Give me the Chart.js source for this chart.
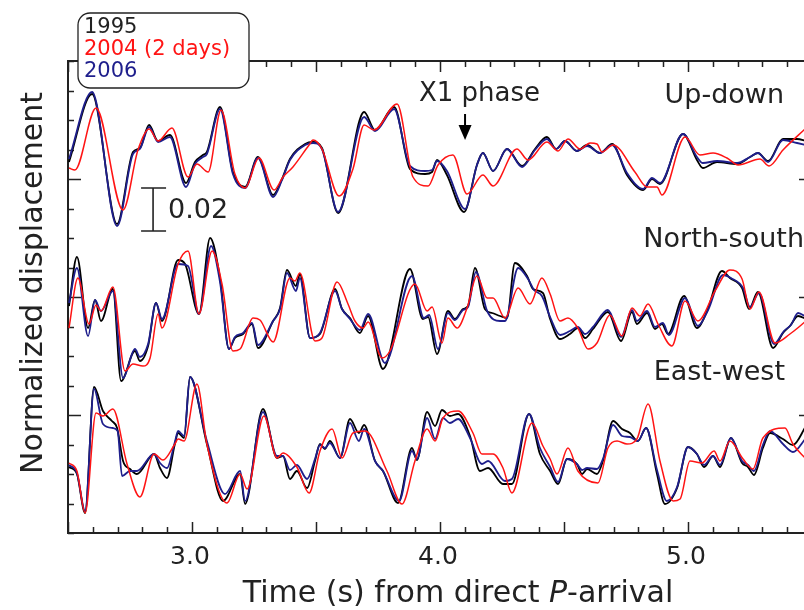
<!DOCTYPE html>
<html>
<head>
<meta charset="utf-8">
<script src="https://cdn.jsdelivr.net/npm/chart.js@4.4.1/dist/chart.umd.min.js"></script>
<style>
  html, body { margin: 0; padding: 0; background: #fff; overflow: hidden; }
  #wrap { width: 804px; height: 610px; overflow: hidden; }
</style>
</head>
<body>
<div id="wrap"><canvas id="chart" width="816" height="610"></canvas></div>
<script>
// time (s) from direct P-arrival, amplitude in plot units (43 units = 0.02)
const X_LABELS = [3.0, 4.0, 5.0];
const TICK = 29.5;
const BASE_UD = 12 * TICK, BASE_NS = 8 * TICK, BASE_EW = 4 * TICK;

/* ================= UP-DOWN ====================== */
const ud1995 = [[2.504,17],[2.597,85],[2.698,-45],[2.762,27],[2.790,31],[2.827,54],[2.863,38],[2.911,44],[2.976,-4],[3.012,17],[3.044,24],[3.060,27],[3.113,72],[3.165,7],[3.214,-8],[3.266,22],[3.327,-16],[3.363,0],[3.395,20],[3.456,35],[3.488,37],[3.524,31],[3.589,-34],[3.694,67],[3.738,49],[3.815,72],[3.879,10],[3.940,5],[3.968,7],[3.988,19],[4.028,4],[4.097,-33],[4.149,14],[4.173,26],[4.214,8],[4.270,30],[4.331,13],[4.383,30],[4.431,42],[4.468,30],[4.504,38],[4.552,28],[4.593,34],[4.645,26],[4.694,35],[4.754,4],[4.819,-11],[4.855,0],[4.887,-5],[4.980,45],[5.036,19],[5.060,11],[5.117,17],[5.198,15],[5.250,22],[5.282,26],[5.323,18],[5.383,40],[5.440,40],[5.476,38]];
const ud2004 = [[2.504,11],[2.528,9],[2.613,71],[2.722,-31],[2.782,29],[2.827,50],[2.863,38],[2.919,51],[2.984,2],[3.020,15],[3.065,7],[3.117,69],[3.173,5],[3.214,-9],[3.270,21],[3.331,-11],[3.367,2],[3.407,12],[3.472,34],[3.488,39],[3.524,30],[3.593,-17],[3.649,10],[3.694,54],[3.734,49],[3.827,75],[3.891,2],[3.952,-7],[3.992,14],[4.052,24],[4.109,-15],[4.173,4],[4.214,-7],[4.310,30],[4.355,19],[4.431,37],[4.476,28],[4.516,40],[4.565,30],[4.605,36],[4.633,35],[4.653,27],[4.698,34],[4.786,7],[4.835,-8],[4.875,-8],[4.895,-16],[4.988,42],[5.048,24],[5.101,26],[5.157,21],[5.202,14],[5.290,20],[5.327,13],[5.383,29],[5.476,51]];
const ud2006 = [[2.504,20],[2.597,87],[2.698,-47],[2.762,25],[2.790,30],[2.827,52],[2.863,37],[2.911,42],[2.976,-8],[3.012,15],[3.044,22],[3.060,25],[3.113,70],[3.165,5],[3.214,-9],[3.266,21],[3.327,-18],[3.363,-1],[3.395,19],[3.456,34],[3.488,36],[3.524,30],[3.589,-33],[3.694,62],[3.738,48],[3.815,70],[3.879,13],[3.940,8],[3.968,9],[3.988,18],[4.028,8],[4.101,-30],[4.149,14],[4.173,26],[4.214,8],[4.270,30],[4.331,12],[4.383,29],[4.431,40],[4.468,30],[4.504,38],[4.552,28],[4.593,33],[4.645,26],[4.694,34],[4.754,6],[4.819,-10],[4.855,1],[4.887,-4],[4.980,45],[5.036,22],[5.060,16],[5.117,18],[5.198,16],[5.250,22],[5.282,26],[5.323,17],[5.383,39],[5.440,36],[5.476,34]];

/* ================= NORTH-SOUTH ====================== */
const ns1995 = [[2.504,-9],[2.536,40],[2.581,-31],[2.609,-3],[2.633,-24],[2.681,8],[2.714,-84],[2.770,-54],[2.790,-64],[2.823,-49],[2.855,-6],[2.879,-24],[2.944,37],[2.972,33],[3.028,-17],[3.073,59],[3.113,19],[3.149,-52],[3.173,-41],[3.206,-37],[3.242,-27],[3.266,-51],[3.327,-24],[3.355,-11],[3.383,27],[3.419,11],[3.435,23],[3.476,-41],[3.516,-37],[3.577,8],[3.605,-12],[3.637,-21],[3.677,-36],[3.710,-19],[3.770,-72],[3.879,28],[3.931,-22],[3.952,-20],[3.988,-57],[4.032,-14],[4.060,-22],[4.093,-12],[4.113,-9],[4.141,29],[4.181,-12],[4.210,-16],[4.242,-19],[4.270,-21],[4.302,34],[4.351,21],[4.375,8],[4.415,4],[4.444,-22],[4.484,-42],[4.524,-37],[4.556,-31],[4.585,-41],[4.617,-32],[4.677,-15],[4.730,-44],[4.774,-15],[4.794,-27],[4.835,-16],[4.867,-32],[4.895,-27],[4.919,-37],[4.984,1],[5.036,-31],[5.077,-14],[5.137,26],[5.169,19],[5.218,9],[5.246,-12],[5.282,5],[5.343,-51],[5.383,-36],[5.411,-29],[5.444,-19],[5.476,-22]];
const ns2004 = [[2.504,-31],[2.540,19],[2.585,-27],[2.613,-8],[2.633,-14],[2.681,10],[2.730,-74],[2.762,-67],[2.802,-69],[2.831,-61],[2.863,-17],[2.879,-31],[2.944,33],[2.984,46],[3.028,-17],[3.081,46],[3.121,13],[3.165,-54],[3.194,-52],[3.246,-21],[3.274,-23],[3.327,-45],[3.395,19],[3.415,16],[3.435,24],[3.496,-44],[3.524,-41],[3.585,15],[3.629,-7],[3.657,-24],[3.690,-31],[3.710,-25],[3.766,-61],[3.798,-54],[3.899,13],[3.948,-14],[3.968,-10],[4.008,-46],[4.032,-21],[4.069,-31],[4.109,-11],[4.149,21],[4.190,-1],[4.214,-1],[4.262,-21],[4.315,9],[4.363,-7],[4.411,19],[4.444,3],[4.484,-24],[4.516,-21],[4.556,-31],[4.597,-52],[4.633,-46],[4.685,-18],[4.734,-39],[4.774,-11],[4.806,-19],[4.839,-7],[4.879,-27],[4.935,-49],[4.988,-4],[5.040,-24],[5.109,6],[5.169,27],[5.218,18],[5.250,-12],[5.286,5],[5.351,-46],[5.411,-37],[5.476,-24]];
const ns2006 = [[2.504,-6],[2.536,29],[2.581,-39],[2.609,-3],[2.633,-14],[2.681,6],[2.722,-81],[2.770,-52],[2.790,-60],[2.823,-47],[2.855,-6],[2.879,-22],[2.944,33],[2.984,31],[3.028,-17],[3.077,51],[3.113,15],[3.149,-52],[3.173,-40],[3.206,-36],[3.242,-26],[3.266,-48],[3.327,-24],[3.355,-12],[3.383,24],[3.419,6],[3.435,19],[3.476,-41],[3.516,-36],[3.577,6],[3.605,-12],[3.637,-22],[3.677,-33],[3.710,-17],[3.778,-66],[3.887,21],[3.935,-21],[3.956,-18],[3.992,-52],[4.032,-16],[4.060,-23],[4.093,-13],[4.113,-10],[4.145,25],[4.190,-14],[4.242,-24],[4.262,-24],[4.315,29],[4.355,18],[4.379,7],[4.411,1],[4.444,-20],[4.484,-38],[4.524,-34],[4.556,-30],[4.585,-37],[4.617,-30],[4.677,-13],[4.730,-40],[4.774,-13],[4.794,-24],[4.835,-14],[4.867,-30],[4.899,-26],[4.923,-38],[4.988,-1],[5.040,-29],[5.081,-13],[5.141,22],[5.173,19],[5.222,9],[5.250,-10],[5.286,4],[5.347,-47],[5.387,-34],[5.415,-28],[5.444,-16],[5.476,-20]];

/* ================= EAST-WEST ====================== */
const ew1995 = [[2.504,-52],[2.536,-59],[2.569,-98],[2.605,28],[2.641,4],[2.677,-6],[2.698,-13],[2.722,-46],[2.750,-54],[2.778,-59],[2.847,-39],[2.871,-53],[2.899,-63],[2.931,-29],[2.944,-18],[2.968,-23],[2.992,38],[3.060,-29],[3.125,-86],[3.194,-59],[3.214,-89],[3.286,6],[3.343,-43],[3.367,-41],[3.395,-64],[3.423,-56],[3.464,-73],[3.496,-46],[3.516,-29],[3.536,-34],[3.556,-26],[3.597,-43],[3.637,-4],[3.673,-18],[3.694,-10],[3.738,-46],[3.770,-56],[3.831,-88],[3.887,-33],[3.907,-45],[3.948,3],[3.980,-11],[4.008,5],[4.040,-1],[4.073,1],[4.121,-21],[4.161,-56],[4.194,-53],[4.254,-69],[4.290,-69],[4.359,1],[4.403,-39],[4.444,-56],[4.476,-69],[4.512,-44],[4.552,-49],[4.573,-59],[4.593,-54],[4.633,-59],[4.657,-46],[4.698,-6],[4.734,-14],[4.766,-18],[4.798,-26],[4.831,-13],[4.875,-59],[4.907,-89],[4.956,-73],[5.000,-32],[5.036,-39],[5.065,-52],[5.101,-41],[5.129,-52],[5.173,-23],[5.218,-48],[5.242,-52],[5.266,-60],[5.302,-33],[5.331,-18],[5.383,-24],[5.423,-30],[5.476,-11]];
const ew2004 = [[2.504,-48],[2.536,-56],[2.569,-98],[2.613,2],[2.641,-1],[2.681,6],[2.738,-49],[2.790,-82],[2.847,-39],[2.883,-45],[2.931,-29],[2.944,-24],[2.968,-26],[3.020,31],[3.060,-29],[3.141,-88],[3.194,-59],[3.222,-74],[3.290,-1],[3.343,-43],[3.367,-38],[3.423,-52],[3.472,-78],[3.516,-36],[3.565,-14],[3.605,-43],[3.649,-18],[3.698,-16],[3.786,-56],[3.847,-89],[3.899,-46],[3.948,-14],[3.980,-26],[4.012,-3],[4.073,4],[4.133,-18],[4.169,-39],[4.214,-39],[4.254,-53],[4.290,-78],[4.371,-8],[4.415,-31],[4.444,-44],[4.472,-59],[4.516,-33],[4.556,-56],[4.637,-68],[4.677,-33],[4.714,-26],[4.754,-29],[4.794,-24],[4.839,11],[4.887,-46],[4.940,-86],[4.968,-84],[5.008,-46],[5.056,-48],[5.105,-36],[5.129,-46],[5.169,-26],[5.222,-44],[5.262,-54],[5.302,-23],[5.391,-13],[5.423,-29],[5.476,-44]];
const ew2006 = [[2.504,-50],[2.536,-58],[2.569,-96],[2.605,26],[2.641,-9],[2.681,-13],[2.700,-16],[2.718,-61],[2.750,-56],[2.778,-56],[2.847,-39],[2.871,-48],[2.899,-53],[2.931,-27],[2.944,-16],[2.968,-21],[2.992,38],[3.060,-26],[3.133,-79],[3.194,-56],[3.214,-86],[3.286,3],[3.343,-41],[3.367,-41],[3.395,-55],[3.423,-50],[3.464,-64],[3.496,-44],[3.516,-30],[3.536,-33],[3.556,-28],[3.597,-43],[3.637,-8],[3.673,-26],[3.694,-14],[3.738,-46],[3.770,-56],[3.835,-86],[3.887,-36],[3.907,-44],[3.948,-3],[3.980,-24],[4.012,-3],[4.040,-8],[4.073,-4],[4.121,-23],[4.169,-49],[4.194,-46],[4.262,-66],[4.290,-64],[4.359,1],[4.403,-33],[4.444,-52],[4.476,-67],[4.512,-44],[4.552,-49],[4.573,-55],[4.593,-53],[4.633,-54],[4.657,-44],[4.698,-10],[4.734,-21],[4.766,-22],[4.798,-26],[4.831,-13],[4.875,-55],[4.915,-86],[4.956,-72],[5.000,-32],[5.036,-39],[5.065,-50],[5.101,-41],[5.129,-50],[5.173,-23],[5.218,-46],[5.242,-50],[5.266,-56],[5.302,-30],[5.331,-16],[5.383,-29],[5.423,-37],[5.476,-23]];

const COL_1995 = '#000000', COL_2004 = '#ff1414', COL_2006 = '#1e1e8c';
const INK = '#222222';
const FONT = '"DejaVu Sans", Verdana, sans-serif';

function trace(points, base, color, width, order) {
    return {
        data: points.map(p => ({ x: p[0], y: p[1] + base })),
        borderColor: color,
        borderWidth: width,
        pointRadius: 0,
        fill: false,
        cubicInterpolationMode: 'monotone',
        order: order
    };
}

// axes, inward ticks and all the annotations
const frame = {
    id: 'frame',
    beforeDatasetsDraw(chart) {
        const { ctx, chartArea: a, scales: { x, y } } = chart;
        ctx.save();
        ctx.strokeStyle = INK;
        ctx.lineWidth = 2;
        ctx.strokeRect(a.left, a.top, a.right - a.left, a.bottom - a.top);
        ctx.lineWidth = 1.5;
        ctx.beginPath();
        for (let k = 25; k <= 55; k++) {
            const px = Math.round(x.getPixelForValue(k / 10)) + 0.5;
            const len = k % 5 === 0 ? 11 : 6;
            ctx.moveTo(px, a.bottom); ctx.lineTo(px, a.bottom - len);
            ctx.moveTo(px, a.top); ctx.lineTo(px, a.top + len);
        }
        for (let k = 0; k <= 16; k++) {
            const py = Math.round(y.getPixelForValue(k * TICK)) + 0.5;
            const len = (k % 4 === 0 && k > 0 && k < 16) ? 13 : 6;
            ctx.moveTo(a.left, py); ctx.lineTo(a.left + len, py);
            ctx.moveTo(a.right, py); ctx.lineTo(a.right - len, py);
        }
        ctx.stroke();
        ctx.restore();
    },
    afterDraw(chart) {
        const { ctx, chartArea: a, scales: { x, y } } = chart;
        ctx.save();
        ctx.fillStyle = INK;
        ctx.font = '25px ' + FONT;
        ctx.textAlign = 'center';
        ctx.textBaseline = 'middle';
        X_LABELS.forEach(v => ctx.fillText(v.toFixed(1), x.getPixelForValue(v) - 2, a.bottom + 24));

        // x title with italic P
        const TF = '30px ' + FONT;
        ctx.font = TF;
        const p1 = 'Time (s) from direct ', p3 = '-arrival';
        const w1 = ctx.measureText(p1).width, w3 = ctx.measureText(p3).width;
        ctx.font = 'italic ' + TF;
        const w2 = ctx.measureText('P').width;
        let sx = 458 - (w1 + w2 + w3) / 2;
        ctx.textAlign = 'left';
        ctx.font = TF;
        ctx.fillText(p1, sx, 594);
        ctx.font = 'italic ' + TF;
        ctx.fillText('P', sx + w1, 594);
        ctx.font = TF;
        ctx.fillText(p3, sx + w1 + w2, 594);

        // y title
        ctx.save();
        ctx.translate(34, 283);
        ctx.rotate(-Math.PI / 2);
        ctx.textAlign = 'center';
        ctx.fillText('Normalized displacement', 0, 0);
        ctx.restore();

        // component names
        ctx.font = '27px ' + FONT;
        ctx.textAlign = 'right';
        ctx.fillText('Up-down', 784, 96);
        ctx.fillText('North-south', 804, 240);
        ctx.fillText('East-west', 785, 373);
        ctx.textAlign = 'left';
        ctx.font = '26px ' + FONT;
        ctx.fillText('X1 phase', 419, 94);

        // X1 arrow
        const ax = x.getPixelForValue(4.101);
        ctx.strokeStyle = '#000';
        ctx.fillStyle = '#000';
        ctx.lineWidth = 2;
        ctx.beginPath(); ctx.moveTo(ax, 114); ctx.lineTo(ax, 128); ctx.stroke();
        ctx.beginPath(); ctx.moveTo(ax - 6.5, 125); ctx.lineTo(ax + 6.5, 125); ctx.lineTo(ax, 140); ctx.closePath(); ctx.fill();

        // scale bar: 43 units = 0.02
        const bx = x.getPixelForValue(2.843);
        const bt = y.getPixelForValue(345), bb = y.getPixelForValue(345 - 43);
        ctx.strokeStyle = INK;
        ctx.lineWidth = 1.6;
        ctx.beginPath();
        ctx.moveTo(bx, bt); ctx.lineTo(bx, bb);
        ctx.moveTo(bx - 12, bt); ctx.lineTo(bx + 13, bt);
        ctx.moveTo(bx - 12, bb); ctx.lineTo(bx + 13, bb);
        ctx.stroke();
        ctx.fillStyle = INK;
        ctx.font = '27px ' + FONT;
        ctx.fillText('0.02', bx + 15, (bt + bb) / 2 + 1);

        // legend box
        const lx = 78, ly = 13, lw = 171, lh = 75, r = 12;
        ctx.beginPath();
        ctx.moveTo(lx + r, ly);
        ctx.arcTo(lx + lw, ly, lx + lw, ly + lh, r);
        ctx.arcTo(lx + lw, ly + lh, lx, ly + lh, r);
        ctx.arcTo(lx, ly + lh, lx, ly, r);
        ctx.arcTo(lx, ly, lx + lw, ly, r);
        ctx.closePath();
        ctx.fillStyle = '#fff';
        ctx.fill();
        ctx.lineWidth = 1.3;
        ctx.strokeStyle = INK;
        ctx.stroke();
        ctx.font = '21px ' + FONT;
        ctx.fillStyle = INK; ctx.fillText('1995', 84, 28);
        ctx.fillStyle = COL_2004; ctx.fillText('2004 (2 days)', 84, 50);
        ctx.fillStyle = COL_2006; ctx.fillText('2006', 84, 72);
        ctx.restore();
    }
};

new Chart(document.getElementById('chart'), {
    type: 'line',
    data: {
        datasets: [
            trace(ud1995, BASE_UD, COL_1995, 1.8, 3),
            trace(ud2006, BASE_UD, COL_2006, 1.8, 2),
            trace(ud2004, BASE_UD, COL_2004, 1.5, 1),
            trace(ns1995, BASE_NS, COL_1995, 1.8, 3),
            trace(ns2006, BASE_NS, COL_2006, 1.8, 2),
            trace(ns2004, BASE_NS, COL_2004, 1.5, 1),
            trace(ew1995, BASE_EW, COL_1995, 1.8, 3),
            trace(ew2006, BASE_EW, COL_2006, 1.8, 2),
            trace(ew2004, BASE_EW, COL_2004, 1.5, 1)
        ]
    },
    options: {
        responsive: false,
        animation: false,
        layout: { padding: { left: 68, right: 4, top: 61, bottom: 77 } },
        plugins: { legend: { display: false }, tooltip: { enabled: false } },
        scales: {
            x: { type: 'linear', min: 2.5, max: 5.5, display: false },
            y: { min: 0, max: 16 * TICK, display: false }
        }
    },
    plugins: [frame]
});
</script>
</body>
</html>
